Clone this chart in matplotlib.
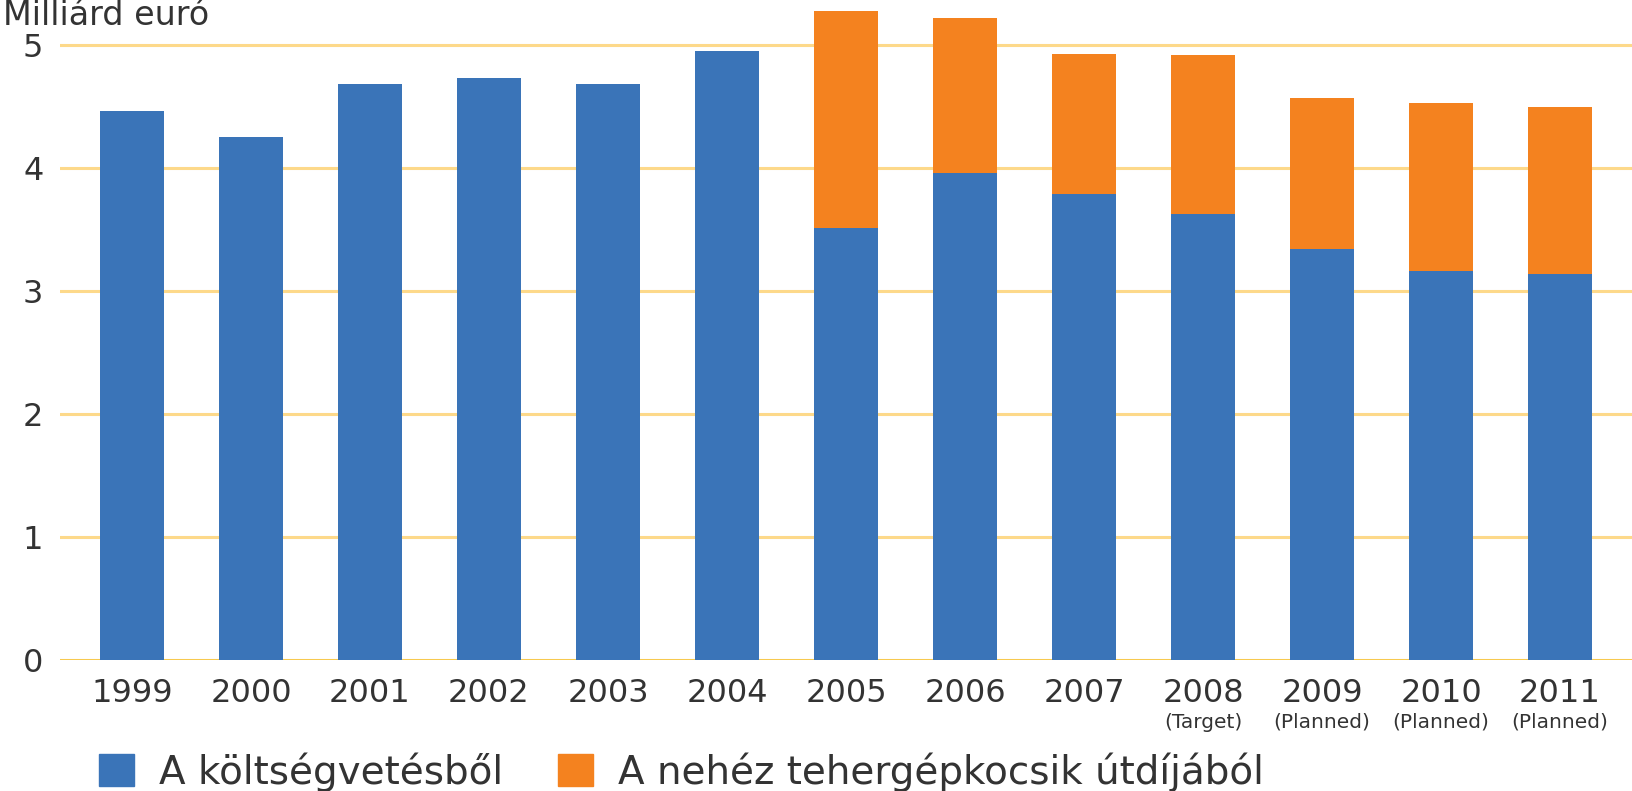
import matplotlib
matplotlib.use("Agg")
import matplotlib.pyplot as plt
from matplotlib.patches import Patch

years = ["1999", "2000", "2001", "2002", "2003", "2004", "2005",
         "2006", "2007", "2008", "2009", "2010", "2011"]
sub_labels = ["", "", "", "", "", "", "", "", "", "(Target)", "(Planned)", "(Planned)", "(Planned)"]
budget = [4.46, 4.25, 4.68, 4.73, 4.68, 4.95, 3.51, 3.96, 3.79, 3.63, 3.34, 3.16, 3.14]
toll = [0, 0, 0, 0, 0, 0, 1.77, 1.26, 1.14, 1.29, 1.23, 1.37, 1.36]
yticks = [0, 1, 2, 3, 4, 5]
series_names = ["A költségvetésből", "A nehéz tehergépkocsik útdíjából"]
ylabel = "Milliárd euró"

BLUE = "#3A74B8"
ORANGE = "#F4821F"
GRID = "#FDD98A"
TXT = "#333333"

fig = plt.figure(figsize=(16.32, 7.91), dpi=100)
ax = fig.add_axes([60 / 1632, 131 / 791, 1 - 60 / 1632, 660 / 791])

x = list(range(len(years)))
ax.bar(x, budget, width=0.545, color=BLUE, zorder=3)
ax.bar(x, toll, bottom=budget, width=0.545, color=ORANGE, zorder=3)

ax.set_xlim(-0.605, len(years) - 1 + 0.605)
ax.set_ylim(0, 5.366)
ax.set_yticks(yticks)
ax.set_xticks(x)
ax.set_xticklabels(years)
for s in ax.spines.values():
    s.set_visible(False)
ax.tick_params(axis="both", length=0, colors=TXT, labelsize=23)
ax.tick_params(axis="x", pad=13)
ax.tick_params(axis="y", pad=12)
for t in yticks:
    ax.axhline(t, color="#F7C94F" if t == 0 else GRID, lw=2.2, zorder=1)

for i, s in enumerate(sub_labels):
    if s:
        ax.annotate(s, xy=(i, 0), xycoords=("data", "axes fraction"),
                    xytext=(0, -45), textcoords="offset points",
                    ha="center", va="center", fontsize=14.5, color=TXT)

fig.text(0.002, 1 - 25 / 791, ylabel, fontsize=24, color=TXT, ha="left", va="baseline")

handles = [Patch(color=BLUE), Patch(color=ORANGE)]
fig.legend(handles, series_names, loc="upper left",
           bbox_to_anchor=(99 / 1632, 1 - 752 / 791), ncol=2, frameon=False,
           fontsize=28, handlelength=0.9, handleheight=0.9, handletextpad=0.65,
           columnspacing=1.4, borderpad=0, borderaxespad=0, labelcolor=TXT)

fig.savefig("out.png", dpi=100)
